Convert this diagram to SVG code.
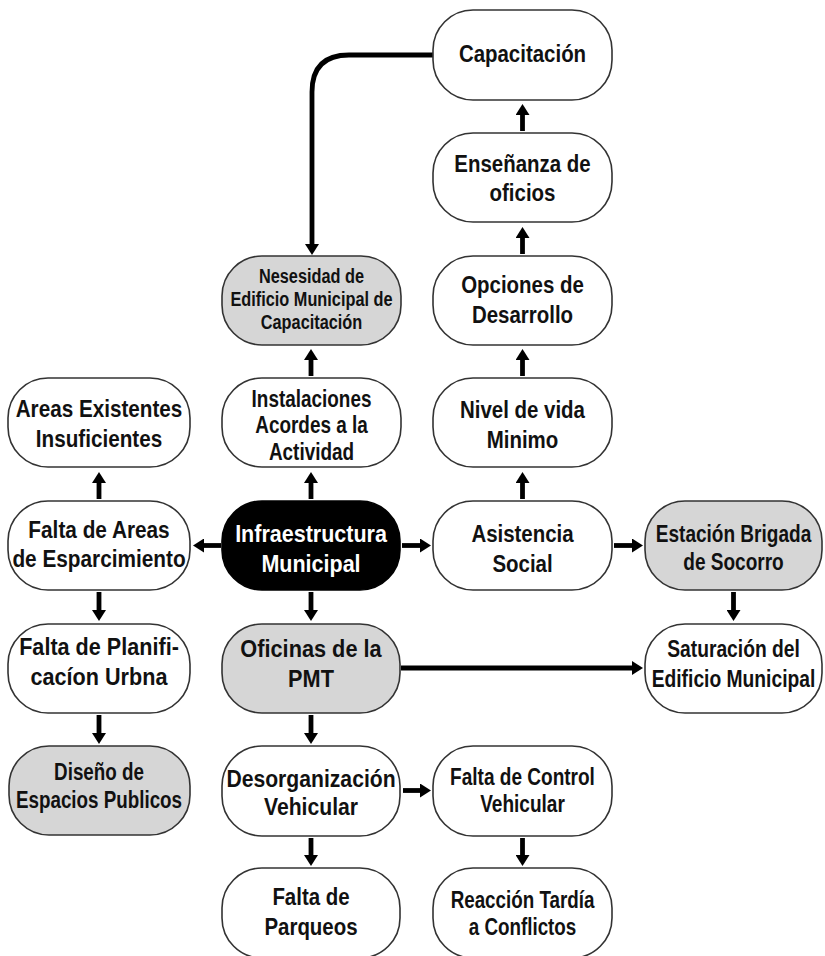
<svg xmlns="http://www.w3.org/2000/svg" width="825" height="956" viewBox="0 0 825 956">
<style>
.box{fill:#fff;stroke:#333;stroke-width:1.6}
.gray{fill:#d6d6d6}
.dark{fill:#000;stroke:#000}
.t{font-family:"Liberation Sans",Arial,sans-serif;font-weight:bold;font-size:23.5px;text-anchor:middle;fill:#111}
.w{fill:#fff}
.s{font-size:20px}
.c{fill:none;stroke:#000;stroke-width:4.8;marker-end:url(#ah)}
</style>
<defs>
<marker id="ah" markerUnits="userSpaceOnUse" markerWidth="12" markerHeight="14" refX="1" refY="7" orient="auto">
<path d="M0,0 L11,7 L0,14 Z" fill="#000"/>
</marker>
</defs>
<rect width="825" height="956" fill="#fff"/>

<g id="connectors">
<path class="c" d="M433,55 H349 Q312,55 312,92 V245"/>
<line class="c" x1="522.5" y1="131" x2="522.5" y2="114"/>
<line class="c" x1="522.5" y1="254" x2="522.5" y2="237"/>
<line class="c" x1="522.5" y1="376" x2="522.5" y2="359"/>
<line class="c" x1="522.5" y1="499" x2="522.5" y2="482"/>
<line class="c" x1="311" y1="376" x2="311" y2="359"/>
<line class="c" x1="311" y1="499" x2="311" y2="482"/>
<line class="c" x1="99" y1="499" x2="99" y2="482"/>
<line class="c" x1="221" y1="545.5" x2="203" y2="545.5"/>
<line class="c" x1="402" y1="545.5" x2="421" y2="545.5"/>
<line class="c" x1="614" y1="545.5" x2="633" y2="545.5"/>
<line class="c" x1="733.5" y1="592" x2="733.5" y2="611"/>
<line class="c" x1="311" y1="592" x2="311" y2="611"/>
<line class="c" x1="401" y1="668" x2="633" y2="668"/>
<line class="c" x1="99" y1="592" x2="99" y2="611"/>
<line class="c" x1="99" y1="715" x2="99" y2="734"/>
<line class="c" x1="311" y1="715" x2="311" y2="734"/>
<line class="c" x1="403" y1="790.5" x2="421" y2="790.5"/>
<line class="c" x1="311" y1="838" x2="311" y2="856"/>
<line class="c" x1="522.5" y1="838" x2="522.5" y2="856"/>
</g>

<g id="capacitacion">
<rect class="box" x="433" y="10" width="179" height="90" rx="40"/>
<g transform="translate(522.5,0) scale(0.87,1)"><text class="t" y="62">Capacitación</text></g>
</g>
<g id="ensenanza">
<rect class="box" x="433" y="133" width="179" height="89" rx="40"/>
<g transform="translate(522.5,0) scale(0.87,1)"><text class="t" y="172">Enseñanza de</text><text class="t" y="201">oficios</text></g>
</g>
<g id="opciones">
<rect class="box" x="433" y="256" width="179" height="89" rx="40"/>
<g transform="translate(522.5,0) scale(0.87,1)"><text class="t" y="293">Opciones de</text><text class="t" y="323">Desarrollo</text></g>
</g>
<g id="nivel">
<rect class="box" x="433" y="378" width="179" height="89" rx="40"/>
<g transform="translate(522.5,0) scale(0.87,1)"><text class="t" y="418">Nivel de vida</text><text class="t" y="448">Minimo</text></g>
</g>
<g id="nesesidad">
<rect class="box gray" x="222" y="256" width="179" height="89" rx="40"/>
<g transform="translate(311.5,0) scale(0.815,1)"><text class="t s" y="283">Nesesidad de</text><text class="t s" y="306">Edificio Municipal de</text><text class="t s" y="329">Capacitación</text></g>
</g>
<g id="instalaciones">
<rect class="box" x="222" y="378" width="179" height="89" rx="40"/>
<g transform="translate(311.5,0) scale(0.805,1)"><text class="t" y="407">Instalaciones</text><text class="t" y="433">Acordes a la</text><text class="t" y="460">Actividad</text></g>
</g>
<g id="areas-existentes">
<rect class="box" x="8" y="378" width="182" height="89" rx="40"/>
<g transform="translate(99,0) scale(0.88,1)"><text class="t" y="417">Areas Existentes</text><text class="t" y="447">Insuficientes</text></g>
</g>
<g id="falta-areas">
<rect class="box" x="8" y="501" width="182" height="89" rx="40"/>
<g transform="translate(99,0) scale(0.885,1)"><text class="t" y="538">Falta de Areas</text><text class="t" y="567">de Esparcimiento</text></g>
</g>
<g id="infraestructura">
<rect class="box dark" x="222" y="501" width="178" height="89" rx="40"/>
<g transform="translate(311,0) scale(0.915,1)"><text class="t w" y="542">Infraestructura</text><text class="t w" y="572">Municipal</text></g>
</g>
<g id="asistencia">
<rect class="box" x="433" y="501" width="179" height="89" rx="40"/>
<g transform="translate(522.5,0) scale(0.87,1)"><text class="t" y="542">Asistencia</text><text class="t" y="572">Social</text></g>
</g>
<g id="estacion">
<rect class="box gray" x="645" y="501" width="177" height="89" rx="40"/>
<g transform="translate(733.5,0) scale(0.81,1)"><text class="t" y="542">Estación Brigada</text><text class="t" y="570">de Socorro</text></g>
</g>
<g id="falta-planificacion">
<rect class="box" x="8" y="624" width="182" height="89" rx="40"/>
<g transform="translate(99,0) scale(0.92,1)"><text class="t" y="655">Falta de Planifi-</text><text class="t" y="685">cacíon Urbna</text></g>
</g>
<g id="oficinas">
<rect class="box gray" x="222" y="624" width="178" height="89" rx="40"/>
<g transform="translate(311,0) scale(0.925,1)"><text class="t" y="657">Oficinas de la</text><text class="t" y="687">PMT</text></g>
</g>
<g id="saturacion">
<rect class="box" x="645" y="624" width="177" height="89" rx="40"/>
<g transform="translate(733.5,0) scale(0.82,1)"><text class="t" y="657">Saturación del</text><text class="t" y="687">Edificio Municipal</text></g>
</g>
<g id="diseno">
<rect class="box gray" x="9" y="746" width="181" height="89" rx="40"/>
<g transform="translate(99,0) scale(0.8,1)"><text class="t" y="780">Diseño de</text><text class="t" y="808">Espacios Publicos</text></g>
</g>
<g id="desorganizacion">
<rect class="box" x="222" y="746" width="178" height="90" rx="40"/>
<g transform="translate(311,0) scale(0.9,1)"><text class="t" y="787">Desorganización</text><text class="t" y="815">Vehicular</text></g>
</g>
<g id="falta-control">
<rect class="box" x="433" y="746" width="179" height="90" rx="40"/>
<g transform="translate(522.5,0) scale(0.81,1)"><text class="t" y="785">Falta de Control</text><text class="t" y="812">Vehicular</text></g>
</g>
<g id="falta-parqueos">
<rect class="box" x="222" y="868" width="178" height="90" rx="40"/>
<g transform="translate(311,0) scale(0.87,1)"><text class="t" y="905">Falta de</text><text class="t" y="935">Parqueos</text></g>
</g>
<g id="reaccion">
<rect class="box" x="433" y="868" width="179" height="90" rx="40"/>
<g transform="translate(522.5,0) scale(0.8,1)"><text class="t" y="908">Reacción Tardía</text><text class="t" y="935">a Conflictos</text></g>
</g>
</svg>
